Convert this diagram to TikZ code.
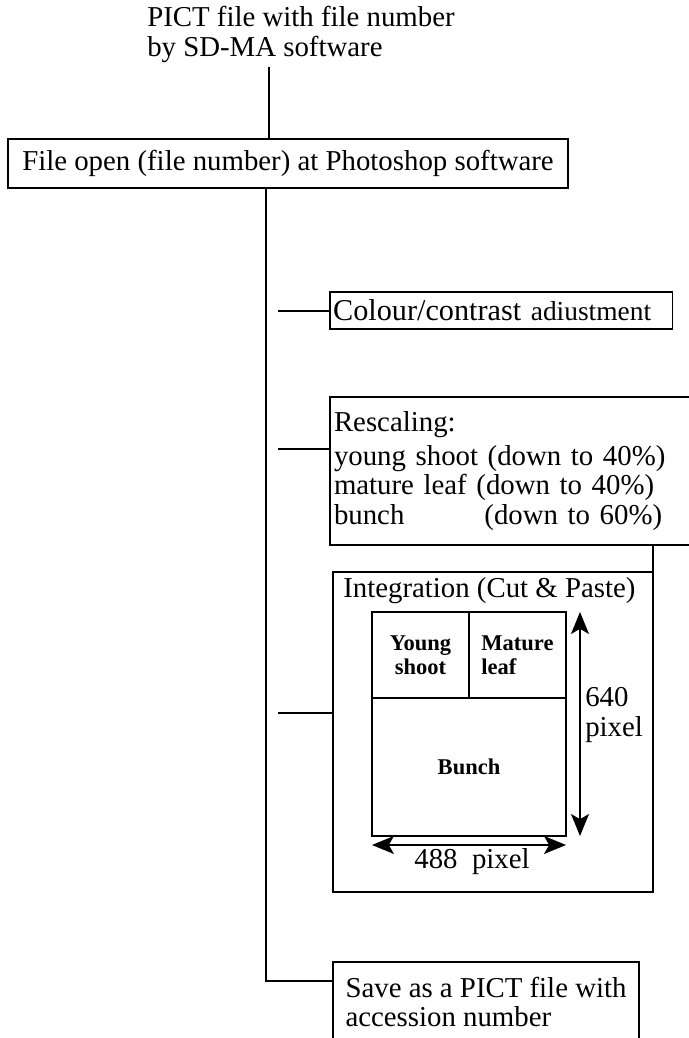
\documentclass[tikz,border=0pt]{standalone}
\usepackage{fontspec}
\setmainfont{Liberation Serif}
\usetikzlibrary{arrows.meta,positioning}

\begin{document}
\begin{tikzpicture}[
  font=\fontsize{20.5}{21}\selectfont,
  rim/.style={line width=1.2pt},
  box/.style={draw, rim, inner ysep=0pt, inner xsep=0.1cm, outer sep=0pt},
  cell/.style={draw, line width=1pt, inner sep=0pt, outer sep=0pt, font=\fontsize{16}{17}\selectfont\bfseries},
  branch/.style={line width=0.9pt},
  trunk/.style={line width=2pt},
  dimarrow/.style={line width=1pt, {Stealth[length=0.55cm,width=0.45cm,inset=0.13cm]}-{Stealth[length=0.55cm,width=0.45cm,inset=0.13cm]}}
]
\useasboundingbox (0,0) rectangle (17.2,25.95);

% source and opened file
\node[align=left, anchor=north west, inner xsep=0.15cm, inner ysep=0.1cm] (pict) at (3.525,25.9) {PICT file with file number\\by SD-MA software};
\node[box, minimum width=14cm, minimum height=1.225cm] (open) at (7.2,21.8625) {File open (file number) at Photoshop software};
\coordinate (top) at (6.725,0);
\draw[branch] (pict.south -| top) -- (open.north -| top);

% processing steps
\node[box, anchor=north west, minimum height=0.925cm, text width=8.4cm, inner xsep=0.08cm, align=left] (colour) at (8.25,18.65)
  {\fontsize{21.5}{22}\selectfont Colour/contrast \fontsize{19.5}{20}\selectfont adiustment};
\node[box, anchor=north west, minimum height=3.7cm, text width=9.4cm, align=left] (rescale) at (8.25,16.025)
  {Rescaling:\\[0.1cm]young shoot (down to 40\%)\\mature leaf (down to 40\%)\\bunch\hspace{2cm}(down to 60\%)};
\node[box, anchor=north west, minimum width=8cm, minimum height=8cm] (integ) at (8.325,11.65) {};
\node[anchor=base west, inner sep=0pt] (integtitle) at (8.575,11.0) {Integration (Cut \& Paste)};
\draw[rim] (integ.north east) -- (integ.north east |- rescale.south);

% layout of the integrated image
\node[cell, anchor=north west, minimum width=2.425cm, minimum height=2.15cm, align=center] (young) at (9.3,10.65) {Young\\shoot};
\node[cell, anchor=north west, minimum width=2.425cm, minimum height=2.15cm, align=left] (mature) at (young.north east) {Mature\\leaf};
\node[cell, anchor=north west, minimum width=4.85cm, minimum height=3.45cm] (bunch) at (young.south west) {Bunch};
\draw[dimarrow] ([xshift=0.35cm]mature.north east) -- ([xshift=0.35cm]bunch.south east);
\draw[dimarrow] ([yshift=-0.225cm]bunch.south west) -- ([yshift=-0.225cm]bunch.south east);
\node[anchor=west, align=left, inner sep=0pt] (height) at (14.625,8.075) {640\\pixel};
\node[inner sep=0pt] (width) at (11.8,4.4) {488~~pixel};

% output file
\node[box, anchor=north west, minimum width=7.65cm, minimum height=2cm, align=left] (save) at (8.325,1.9)
  {Save as a PICT file with\\accession number};

% trunk and branches
\coordinate (trunk) at (6.65,0);
\coordinate (b1) at (6.95,18.175);
\coordinate (b2) at (6.95,14.725);
\coordinate (b3) at (6.95,8.125);
\draw[trunk] (open.south -| trunk) |- ([yshift=-0.475cm]save.north west);
\draw[branch] (b1) -- (b1 -| colour.west);
\draw[branch] (b2) -- (b2 -| rescale.west);
\draw[branch] (b3) -- (b3 -| integ.west);
\end{tikzpicture}
\end{document}
